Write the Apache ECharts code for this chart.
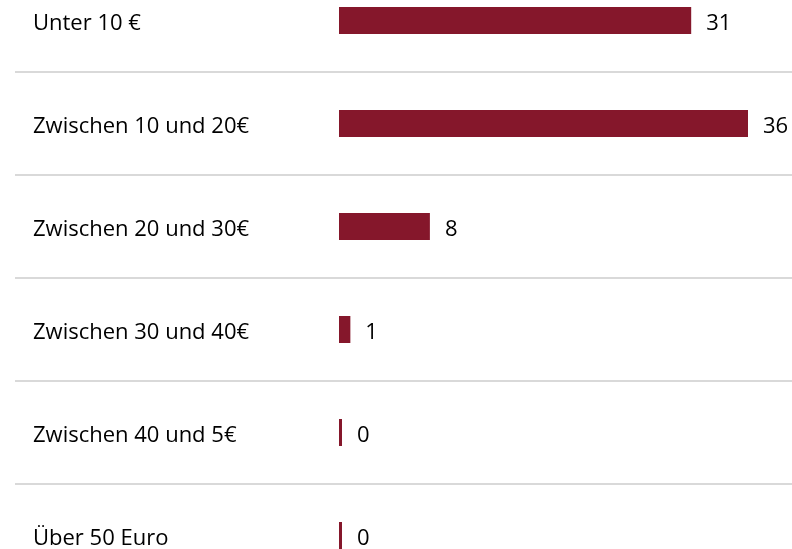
<!DOCTYPE html>
<html>
<head>
<meta charset="utf-8">
<script src="https://cdn.jsdelivr.net/npm/echarts@6/dist/echarts.min.js"></script>
<style>
  html, body { margin: 0; padding: 0; background: #fff; }
  #chart { width: 792px; height: 549px; }
</style>
</head>
<body>
<div id="chart"></div>
<script>
const categories = [
  "Unter 10 €",
  "Zwischen 10 und 20€",
  "Zwischen 20 und 30€",
  "Zwischen 30 und 40€",
  "Zwischen 40 und 5€",
  "Über 50 Euro"
];
const counts = [31, 36, 8, 1, 0, 0];

const chart = echarts.init(document.getElementById("chart"));

// rows are ~103px high, first row is partly cut off at the top
const gridTop = -31;
const gridHeight = 618;

chart.setOption({
  animation: false,
  grid: [
    // full width grid: separators + category names
    { left: 15, right: 0, top: gridTop, height: gridHeight, outerBoundsMode: "none" },
    // bars
    { left: 339, width: 409, top: gridTop, height: gridHeight, outerBoundsMode: "none" }
  ],
  xAxis: [
    { gridIndex: 0, type: "value", show: false },
    { gridIndex: 1, type: "value", min: 0, max: 36, show: false }
  ],
  yAxis: [
    {
      gridIndex: 0,
      type: "category",
      inverse: true,
      data: categories,
      axisLine: { show: false },
      axisTick: { show: false },
      splitLine: { show: true, lineStyle: { color: "#d9d9d9", width: 2 } },
      axisLabel: {
        inside: true,
        margin: 18,
        formatter: "{t|{value}}",
        rich: {
          t: {
            padding: [6, 0, 0, 0],
            color: "#000",
            fontFamily: "Open Sans",
            fontSize: 22
          }
        }
      }
    },
    {
      gridIndex: 1,
      type: "category",
      inverse: true,
      data: categories,
      show: false
    }
  ],
  series: [
    {
      type: "bar",
      xAxisIndex: 1,
      yAxisIndex: 1,
      data: counts,
      barWidth: 27,
      barMinHeight: 3,
      itemStyle: { color: "#85172b" },
      label: {
        show: true,
        position: "right",
        distance: 15,
        offset: [0, 3],
        color: "#000",
        fontFamily: "Open Sans",
        fontSize: 22
      }
    }
  ]
});
</script>
</body>
</html>
